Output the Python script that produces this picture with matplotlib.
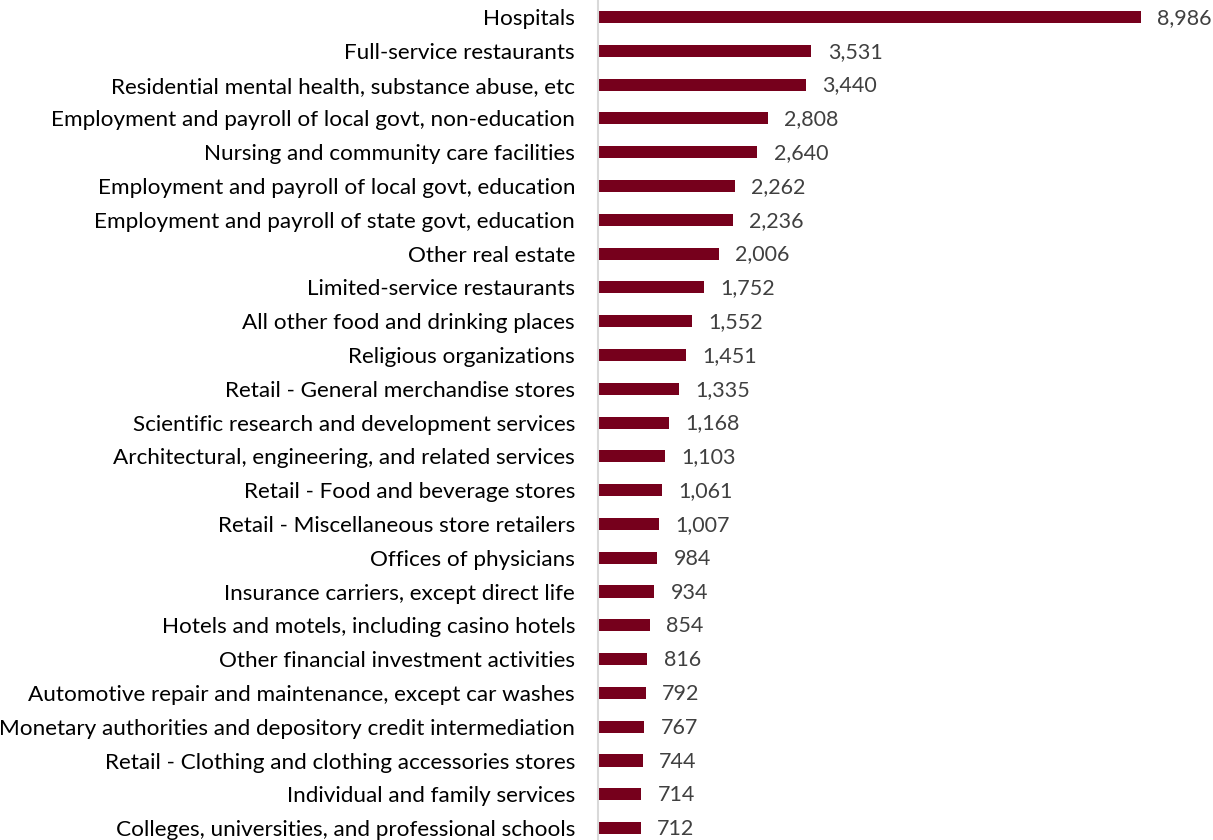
import matplotlib.pyplot as plt

categories = [
    "Hospitals",
    "Full-service restaurants",
    "Residential mental health, substance abuse, etc",
    "Employment and payroll of local govt, non-education",
    "Nursing and community care facilities",
    "Employment and payroll of local govt, education",
    "Employment and payroll of state govt, education",
    "Other real estate",
    "Limited-service restaurants",
    "All other food and drinking places",
    "Religious organizations",
    "Retail - General merchandise stores",
    "Scientific research and development services",
    "Architectural, engineering, and related services",
    "Retail - Food and beverage stores",
    "Retail - Miscellaneous store retailers",
    "Offices of physicians",
    "Insurance carriers, except direct life",
    "Hotels and motels, including casino hotels",
    "Other financial investment activities",
    "Automotive repair and maintenance, except car washes",
    "Monetary authorities and depository credit intermediation",
    "Retail - Clothing and clothing accessories stores",
    "Individual and family services",
    "Colleges, universities, and professional schools",
]
values = [8986, 3531, 3440, 2808, 2640, 2262, 2236, 2006, 1752, 1552, 1451,
          1335, 1168, 1103, 1061, 1007, 984, 934, 854, 816, 792, 767, 744,
          714, 712]

plt.rcParams['font.family'] = ['Lato', 'DejaVu Sans']

fig = plt.figure(figsize=(12.13, 8.4), dpi=100)
ax = fig.add_axes([598 / 1213, 0, 615 / 1213, 1])

y = list(range(len(categories)))
ax.barh(y, values, height=0.36, color='#76001C')

for i, v in zip(y, values):
    ax.text(v + 270, i - 0.03, f"{v:,}", va='center_baseline', ha='left',
            fontsize=15.5, color='#404040')

ax.set_xlim(0, 10180)
ax.set_ylim(24.35, -0.503)
ax.set_yticks(y)
ax.set_yticklabels(categories, fontsize=16.2, color='black',
                   va='center_baseline')
ax.tick_params(axis='y', length=0, pad=16.5)
ax.set_xticks([])

for s in ['top', 'right', 'bottom']:
    ax.spines[s].set_visible(False)
ax.spines['left'].set_color('#d9d9d9')
ax.spines['left'].set_linewidth(1.5)

fig.savefig('out.png', dpi=100)
